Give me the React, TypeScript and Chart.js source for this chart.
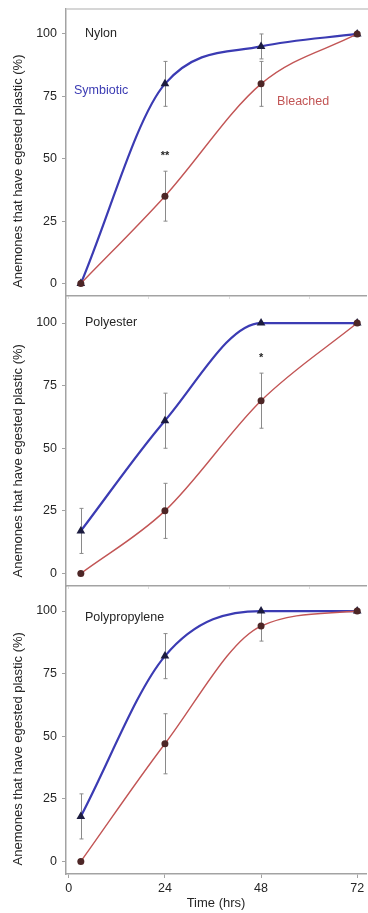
import React, { useEffect, useRef } from "react";
import { Chart, registerables } from "chart.js";

Chart.register(...registerables);

// ---------- data ----------
const hours = [3, 24, 48, 72];
const xTickValues = [0, 24, 48, 72];
const xFaintTicks = [0, 20, 40, 60];
const yTickValues = [0, 25, 50, 75, 100];
const panelNames = ["Nylon", "Polyester", "Polypropylene"];
const seriesNames = ["Symbiotic", "Bleached"];

const nylonSymbiotic = [0, 80, 95, 100];
const nylonSymbioticErr = [0, 9, 5, 0];
const nylonBleached = [0, 35, 80, 100];
const nylonBleachedErr = [0, 10, 9, 0];

const polyesterSymbiotic = [17, 61, 100, 100];
const polyesterSymbioticErr = [9, 11, 0, 0];
const polyesterBleached = [0, 25, 69, 100];
const polyesterBleachedErr = [0, 11, 11, 0];

const polypropyleneSymbiotic = [18, 82, 100, 100];
const polypropyleneSymbioticErr = [9, 9, 0, 0];
const polypropyleneBleached = [0, 47, 94, 100];
const polypropyleneBleachedErr = [0, 12, 6, 0];

// significance marks
const nylonSig = [{ x: 24, y: 51, text: "**" }];
const polyesterSig = [{ x: 48, y: 86, text: "*" }];
const polypropyleneSig: { x: number; y: number; text: string }[] = [];

// ---------- styles ----------
const FONT = "'Liberation Sans', Arial, Helvetica, sans-serif";
const TEXT = "#262626";
const AXIS = "#a3a3a3";
const BLUE = "#3b3bb3";
const RED = "#c25555";
const TRI = "#1c1c40";
const DOT = "#4d2626";
const ERR = "#8a8a8a";

type Panel = {
  name: string;
  sym: number[];
  symErr: number[];
  ble: number[];
  bleErr: number[];
  sig: { x: number; y: number; text: string }[];
  top: number;
  height: number;
  padTop: number;
  xAxisH: number;
  bottom: boolean;
  first: boolean;
  nameValue: number;
};

// chart areas: 9..296, 298..586, 586..874 (page px)
const panels: Panel[] = [
  { name: panelNames[0], sym: nylonSymbiotic, symErr: nylonSymbioticErr, ble: nylonBleached, bleErr: nylonBleachedErr, sig: nylonSig, top: -7, height: 319, padTop: 16, xAxisH: 16, bottom: false, first: true, nameValue: 100 },
  { name: panelNames[1], sym: polyesterSymbiotic, symErr: polyesterSymbioticErr, ble: polyesterBleached, bleErr: polyesterBleachedErr, sig: polyesterSig, top: 282, height: 320, padTop: 16, xAxisH: 16, bottom: false, first: false, nameValue: 100 },
  { name: panelNames[2], sym: polypropyleneSymbiotic, symErr: polypropyleneSymbioticErr, ble: polypropyleneBleached, bleErr: polypropyleneBleachedErr, sig: polypropyleneSig, top: 570, height: 343, padTop: 16, xAxisH: 39, bottom: true, first: false, nameValue: 97.5 },
];

function PanelChart({ p }: { p: Panel }) {
  const ref = useRef<HTMLCanvasElement | null>(null);
  useEffect(() => {
    if (!ref.current) return;
    const annot = {
      id: "annot" + p.name,
      beforeDatasetsDraw(chart: any) {
        const ctx = chart.ctx;
        const xs = chart.scales.x;
        const ys = chart.scales.y;
        ctx.save();
        ctx.strokeStyle = ERR;
        ctx.lineWidth = 1;
        chart.data.datasets.forEach((ds: any) => {
          const errs: number[] = ds.errors;
          ds.data.forEach((pt: any, i: number) => {
            const e = errs[i];
            if (!e) return;
            const px = Math.round(xs.getPixelForValue(pt.x)) + 0.5;
            const y1 = ys.getPixelForValue(Math.min(100, pt.y + e));
            const y2 = ys.getPixelForValue(pt.y - e);
            ctx.beginPath();
            ctx.moveTo(px, y1);
            ctx.lineTo(px, y2);
            ctx.moveTo(px - 2, y1);
            ctx.lineTo(px + 2, y1);
            ctx.moveTo(px - 2, y2);
            ctx.lineTo(px + 2, y2);
            ctx.stroke();
          });
        });
        ctx.restore();
      },
      afterDraw(chart: any) {
        const ctx = chart.ctx;
        const xs = chart.scales.x;
        const ys = chart.scales.y;
        const area = chart.chartArea;
        ctx.save();
        if (p.first) {
          ctx.strokeStyle = "#c8c8c8";
          ctx.lineWidth = 1.5;
          ctx.beginPath();
          ctx.moveTo(area.left, area.top);
          ctx.lineTo(area.right + 2, area.top);
          ctx.stroke();
        }
        ctx.fillStyle = TEXT;
        ctx.font = `12.5px ${FONT}`;
        ctx.textAlign = "left";
        ctx.textBaseline = "middle";
        ctx.fillText(p.name, area.left + 19, ys.getPixelForValue(p.nameValue));
        ctx.textAlign = "center";
        ctx.font = `bold 11px ${FONT}`;
        p.sig.forEach((s) => {
          ctx.fillText(s.text, xs.getPixelForValue(s.x), ys.getPixelForValue(s.y));
        });
        if (p.first) {
          ctx.textAlign = "left";
          ctx.font = `12.5px ${FONT}`;
          ctx.fillStyle = BLUE;
          ctx.fillText(seriesNames[0], xs.getPixelForValue(1.3), ys.getPixelForValue(77.5));
          ctx.fillStyle = RED;
          ctx.fillText(seriesNames[1], xs.getPixelForValue(52), ys.getPixelForValue(73));
        }
        ctx.fillStyle = TEXT;
        ctx.font = `13px ${FONT}`;
        ctx.translate(18, ys.getPixelForValue(45));
        ctx.rotate(-Math.PI / 2);
        ctx.textAlign = "center";
        ctx.textBaseline = "middle";
        ctx.fillText("Anemones that have egested plastic (%)", 0, 0);
        ctx.restore();
      },
    };

    const chart = new Chart(ref.current, {
      type: "line",
      data: {
        datasets: [
          {
            label: seriesNames[1],
            data: hours.map((h, i) => ({ x: h, y: p.ble[i] })),
            borderColor: RED,
            borderWidth: 1.4,
            cubicInterpolationMode: "monotone",
            pointStyle: "circle",
            pointRadius: 3.5,
            pointBackgroundColor: DOT,
            pointBorderColor: DOT,
            pointBorderWidth: 0,
            errors: p.bleErr,
          } as any,
          {
            label: seriesNames[0],
            data: hours.map((h, i) => ({ x: h, y: p.sym[i] })),
            borderColor: BLUE,
            borderWidth: 2.2,
            cubicInterpolationMode: "monotone",
            pointStyle: "triangle",
            pointRadius: 5,
            pointBackgroundColor: TRI,
            pointBorderColor: TRI,
            pointBorderWidth: 0,
            errors: p.symErr,
          } as any,
        ],
      },
      options: {
        animation: false,
        responsive: false,
        maintainAspectRatio: false,
        events: [],
        layout: { autoPadding: false, padding: { top: p.padTop, right: 2, left: 0, bottom: 0 } },
        plugins: { legend: { display: false }, tooltip: { enabled: false }, title: { display: false } },
        scales: {
          x: {
            type: "linear",
            min: -0.7,
            max: 74.2,
            afterBuildTicks: (s: any) => {
              s.ticks = (p.bottom ? xTickValues : xFaintTicks).map((v) => ({ value: v }));
            },
            afterFit: (s: any) => {
              s.height = p.xAxisH;
            },
            grid: {
              drawOnChartArea: false,
              drawTicks: true,
              tickLength: p.bottom ? 4 : 3,
              color: p.bottom ? AXIS : "#dedede",
            },
            border: { color: AXIS, width: 1.5 },
            ticks: {
              display: p.bottom,
              color: TEXT,
              font: { family: FONT, size: 12.5 },
              padding: 3,
              maxRotation: 0,
            },
            title: {
              display: p.bottom,
              text: "Time (hrs)",
              color: TEXT,
              font: { family: FONT, size: 13 },
              padding: { top: 0, bottom: 2 },
            },
          },
          y: {
            min: -5,
            max: 110,
            afterBuildTicks: (s: any) => {
              s.ticks = yTickValues.map((v) => ({ value: v }));
            },
            afterFit: (s: any) => {
              s.width = 66;
            },
            grid: { drawOnChartArea: false, drawTicks: true, tickLength: 4, color: AXIS },
            border: { color: AXIS, width: 1.5 },
            ticks: {
              color: TEXT,
              font: { family: FONT, size: 12.5 },
              padding: 5,
            },
          },
        },
      } as any,
      plugins: [annot],
    });
    return () => chart.destroy();
  }, [p]);

  return (
    <canvas
      ref={ref}
      width={368}
      height={p.height}
      style={{ position: "absolute", left: 0, top: p.top, width: 368, height: p.height }}
    />
  );
}

export default function App() {
  return (
    <div style={{ position: "absolute", left: 0, top: 0, width: 368, height: 913, background: "#fff", overflow: "hidden" }}>
      {panels.map((p) => (
        <PanelChart key={p.name} p={p} />
      ))}
    </div>
  );
}
